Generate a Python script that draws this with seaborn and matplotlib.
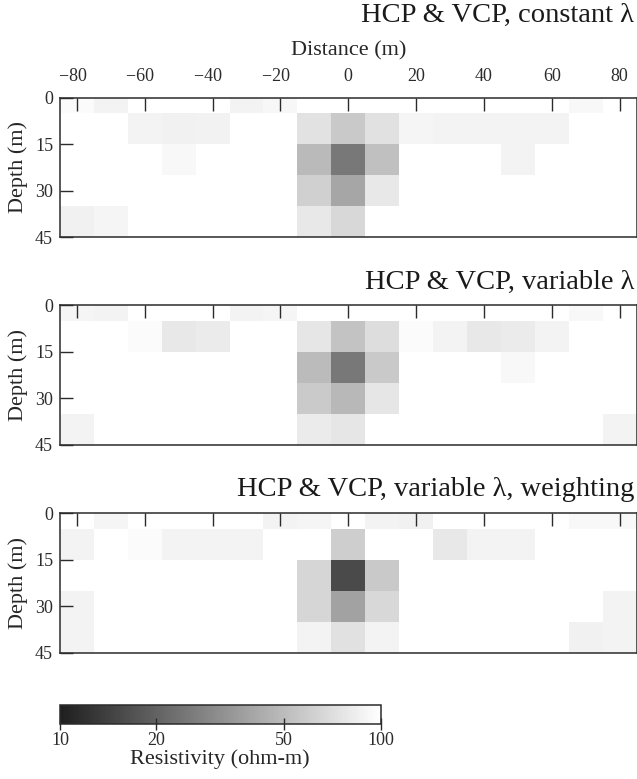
import numpy as np
import pandas as pd
import matplotlib
matplotlib.use("Agg")
import matplotlib.pyplot as plt
from matplotlib.colors import LogNorm, LinearSegmentedColormap
from matplotlib.ticker import NullLocator
import seaborn as sns

# Model grid: cell centres (m)
distance = [-80, -70, -60, -50, -40, -30, -20, -10, 0, 10, 20, 30, 40, 50, 60, 70, 80]
depth = [0, 10, 20, 30, 40]

distance_ticks = [-80, -60, -40, -20, 0, 20, 40, 60, 80]
depth_ticks = [0, 15, 30, 45]
cbar_ticks = [10, 20, 50, 100]

titles = [
    "HCP & VCP, constant \u03bb",
    "HCP & VCP, variable \u03bb",
    "HCP & VCP, variable \u03bb, weighting",
]

# Inverted resistivity (ohm-m), one row per depth layer
res_constant = [
    [95, 88, 100, 100, 100, 88, 92, 100, 100, 100, 100, 100, 100, 100, 100, 93, 100],
    [100, 100, 88, 86, 87, 100, 100, 74, 57, 73, 90, 88, 88, 88, 88, 100, 100],
    [100, 100, 100, 93, 100, 100, 100, 49, 25, 52, 100, 100, 100, 88, 100, 100, 100],
    [100, 100, 100, 100, 100, 100, 100, 62, 40, 79, 100, 100, 100, 100, 100, 100, 100],
    [86, 90, 100, 100, 100, 100, 100, 79, 67, 100, 100, 100, 100, 100, 100, 100, 100],
]
res_variable = [
    [90, 88, 100, 100, 100, 88, 90, 100, 100, 100, 100, 100, 100, 100, 100, 93, 100],
    [100, 100, 95, 79, 81, 100, 100, 77, 54, 70, 95, 88, 79, 81, 88, 100, 100],
    [100, 100, 100, 100, 100, 100, 100, 50, 25, 57, 100, 100, 100, 93, 100, 100, 100],
    [100, 100, 100, 100, 100, 100, 100, 58, 48, 77, 100, 100, 100, 100, 100, 100, 100],
    [88, 100, 100, 100, 100, 100, 100, 81, 77, 100, 100, 100, 100, 100, 100, 100, 88],
]
res_weighted = [
    [100, 90, 100, 100, 100, 100, 88, 90, 100, 88, 86, 100, 100, 100, 100, 93, 93],
    [88, 100, 95, 88, 88, 88, 100, 100, 60, 100, 100, 79, 88, 88, 100, 100, 100],
    [100, 100, 100, 100, 100, 100, 100, 65, 15.6, 57, 100, 100, 100, 100, 100, 100, 100],
    [88, 100, 100, 100, 100, 100, 100, 65, 38.5, 67, 100, 100, 100, 100, 100, 100, 88],
    [88, 100, 100, 100, 100, 100, 100, 88, 73, 88, 100, 100, 100, 100, 100, 86, 88],
]

sns.set_theme(style="ticks")
plt.rcParams["font.family"] = ["Liberation Serif", "DejaVu Serif"]
plt.rcParams["axes.edgecolor"] = "#2b2b2b"
plt.rcParams["axes.linewidth"] = 1.1
plt.rcParams["axes.axisbelow"] = False
plt.rcParams["xtick.color"] = "#2b2b2b"
plt.rcParams["ytick.color"] = "#2b2b2b"
plt.rcParams["text.color"] = "#1a1a1a"

cmap = LinearSegmentedColormap.from_list("resistivity", ["#1f1f1f", "#ffffff"])
norm = LogNorm(vmin=10, vmax=100)

W, H = 637, 779
fig = plt.figure(figsize=(W / 100, H / 100), dpi=100)


def fx(px):
    return px / W


def fy(px):
    return 1 - px / H


def tick_text(v):
    # negative labels keep their digits centred on the tick, the minus hangs left
    if v < 0:
        return "\u2212" + str(abs(v)) + "\u2007"
    return str(v)


panel_tops = [97.7, 305.3, 513.3]
panel_height = 139.5
title_y = [15, 282, 490]

dx = distance[1] - distance[0]
dz = depth[1] - depth[0]
xpos = [(t - distance[0]) / dx + 0.5 for t in distance_ticks]
ypos = [(d - depth[0]) / dz + 0.5 for d in depth_ticks]

datasets = [res_constant, res_variable, res_weighted]
mesh = None
for i, (values, title) in enumerate(zip(datasets, titles)):
    top = panel_tops[i]
    ax = fig.add_axes([fx(60), fy(top + panel_height), fx(636.5 - 60), panel_height / H])
    df = pd.DataFrame(values, index=depth, columns=distance)
    sns.heatmap(df, ax=ax, cmap=cmap, norm=norm, cbar=False,
                xticklabels=False, yticklabels=False)
    mesh = ax.collections[0]
    ax.set_axisbelow(False)
    for s in ax.spines.values():
        s.set_visible(True)
        s.set_zorder(3)
    ax.set_xlim(0, len(distance))
    ax.set_ylim(len(depth), 0.5)

    ax.xaxis.tick_top()
    ax.set_xticks(xpos)
    ax.set_yticks(ypos)
    ax.set_yticklabels([str(d) for d in depth_ticks], rotation=0, fontsize=13)
    ax.tick_params(axis="x", which="both", direction="in", length=9, width=1.0,
                   top=True, bottom=False, pad=9)
    ax.tick_params(axis="y", which="both", direction="in", length=9, width=1.0,
                   left=True, right=False, pad=5)
    if i == 0:
        ax.set_xticklabels([tick_text(t) for t in distance_ticks], fontsize=13)
        ax.xaxis.set_label_position("top")
        ax.set_xlabel("Distance (m)", fontsize=16, labelpad=9)
    else:
        ax.set_xticklabels([])
        ax.set_xlabel("")
    ax.set_ylabel("Depth (m)", fontsize=16, labelpad=5)

    fig.text(fx(634), fy(title_y[i]), title, ha="right", va="center", fontsize=20.5)

# Horizontal colour bar
cax = fig.add_axes([fx(60), fy(724.3), fx(380.5 - 60), 19.3 / H])
cb = fig.colorbar(mesh, cax=cax, orientation="horizontal")
cb.set_ticks(cbar_ticks)
cb.set_ticklabels([str(t) for t in cbar_ticks])
cb.ax.xaxis.set_minor_locator(NullLocator())
cb.ax.tick_params(axis="x", direction="inout", length=9, width=1.0, labelsize=13, pad=1)
cb.outline.set_edgecolor("#2b2b2b")
cb.outline.set_linewidth(1.1)
cb.set_label("Resistivity (ohm-m)", fontsize=16, labelpad=0)

fig.savefig("out.png", dpi=100)
